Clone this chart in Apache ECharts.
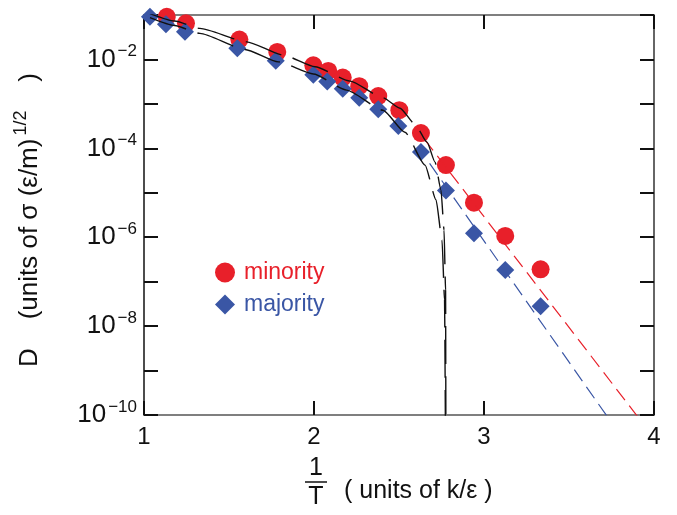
<!DOCTYPE html>
<html>
<head>
<meta charset="utf-8">
<title>D vs 1/T</title>
<script src="https://cdn.jsdelivr.net/npm/echarts@6/dist/echarts.min.js"></script>
<style>
  html, body { margin: 0; padding: 0; background: #fff; }
  #main { width: 677px; height: 515px; }
</style>
</head>
<body>
<div id="main"></div>
<script>
// minority (red circles)
var minorityX = [1.134, 1.247, 1.561, 1.784, 1.996, 2.084, 2.169, 2.266, 2.378, 2.502, 2.629, 2.776, 2.941, 3.125, 3.333];
var minorityD = [9.1e-2, 6.5e-2, 2.8e-2, 1.48e-2, 7.4e-3, 5.5e-3, 3.9e-3, 2.5e-3, 1.5e-3, 7.2e-4, 2.2e-4, 4.2e-5, 6.0e-6, 1.07e-6, 1.9e-7];
// majority (blue diamonds)
var majorityX = [1.035, 1.129, 1.241, 1.549, 1.775, 1.996, 2.078, 2.169, 2.266, 2.378, 2.496, 2.629, 2.776, 2.941, 3.125, 3.333];
var majorityD = [9.1e-2, 6.2e-2, 4.2e-2, 1.78e-2, 9.3e-3, 4.5e-3, 3.2e-3, 2.2e-3, 1.38e-3, 7.6e-4, 3.2e-4, 8.3e-5, 1.12e-5, 1.23e-6, 1.82e-7, 2.8e-8];
// black dashed fits (upper through minority, lower through majority)
var fitUpperX = [1.035, 1.18, 1.329, 1.604, 1.819, 2.006, 2.212, 2.406, 2.506, 2.594, 2.665, 2.712, 2.747, 2.765, 2.774, 2.776];
var fitUpperD = [1.07e-1, 7.3e-2, 4.99e-2, 2.49e-2, 1.25e-2, 6.84e-3, 3.26e-3, 1.37e-3, 8.0e-4, 3.5e-4, 1.38e-4, 4.9e-5, 1.15e-5, 1.45e-6, 6.4e-8, 1e-11];
var fitLowerX = [1.035, 1.18, 1.329, 1.594, 1.790, 1.996, 2.192, 2.406, 2.535, 2.653, 2.718, 2.753, 2.768, 2.774];
var fitLowerD = [8.7e-2, 5.8e-2, 3.85e-2, 1.68e-2, 8.8e-3, 4.7e-3, 2.04e-3, 7.2e-4, 2.3e-4, 4.2e-5, 6.9e-6, 8.7e-7, 3.9e-8, 1e-11];
// straight Arrhenius lines
var minorityLineX = [2.65, 3.95];
var minorityLineD = [1.6e-4, 5.4e-11];
var majorityLineX = [2.68, 3.80];
var majorityLineD = [4.6e-5, 3.6e-11];
var xTicks = [1, 2, 3, 4];

var RED = '#e8202a', BLUE = '#3a56a5';
var FONT = '"Liberation Sans", Arial, sans-serif';

function pairs(xs, ys) {
  return xs.map(function (x, i) { return [x, ys[i]]; });
}

var chart = echarts.init(document.getElementById('main'));

var yLabel = function (v) {
  var e = Math.round(Math.log10(v));
  if (e % 2 !== 0) return '';
  return '{b|10}{s|\u2212' + (-e) + '}';
};

var option = {
  animation: false,
  grid: { left: 144, right: 23, top: 15, bottom: 100 },
  legend: {
    orient: 'vertical',
    left: 210,
    top: 256,
    itemWidth: 20,
    itemHeight: 20,
    itemGap: 9,
    textStyle: { fontFamily: FONT, fontSize: 23, padding: [0, 0, 0, 4] },
    data: [
      { name: 'minority', textStyle: { color: RED } },
      { name: 'majority', textStyle: { color: BLUE } }
    ]
  },
  xAxis: [{
    type: 'value', min: xTicks[0], max: xTicks[xTicks.length - 1], interval: 1,
    axisLine: { lineStyle: { color: '#555', width: 1.5 } },
    axisTick: { inside: true, length: 14, lineStyle: { color: '#111', width: 2 } },
    axisLabel: { fontFamily: FONT, fontSize: 24, color: '#111', margin: 10 },
    splitLine: { show: false }
  }, {
    type: 'value', position: 'top', min: xTicks[0], max: xTicks[xTicks.length - 1], interval: 1,
    axisLine: { lineStyle: { color: '#555', width: 1.5 } },
    axisTick: { inside: true, length: 14, lineStyle: { color: '#111', width: 2 } },
    axisLabel: { show: false },
    splitLine: { show: false }
  }],
  yAxis: [{
    type: 'log', logBase: 10, min: 1e-10, max: 1e-1, splitNumber: 9,
    axisLine: { show: true, lineStyle: { color: '#111', width: 1.5 } },
    axisTick: { show: true, inside: true, length: 14, lineStyle: { color: '#111', width: 2 } },
    axisLabel: {
      fontFamily: FONT, color: '#111', margin: 7, formatter: yLabel,
      rich: {
        b: { fontFamily: FONT, fontSize: 26, color: '#111' },
        s: { fontFamily: FONT, fontSize: 17, color: '#111', padding: [0, 0, 16, 2] }
      }
    },
    splitLine: { show: false }
  }, {
    type: 'log', logBase: 10, min: 1e-10, max: 1e-1, splitNumber: 9, position: 'right',
    axisLine: { show: true, lineStyle: { color: '#333', width: 1.5 } },
    axisTick: { show: true, inside: true, length: 14, lineStyle: { color: '#111', width: 2 } },
    axisLabel: { show: false },
    splitLine: { show: false }
  }],
  graphic: [
    {
      type: 'text', x: 30, y: 220, rotation: Math.PI / 2,
      style: {
        text: '{a|D    (units of \u03c3 (\u03b5/m)}{s|1/2}{a|    )}',
        align: 'center', verticalAlign: 'middle',
        rich: {
          a: { fontFamily: FONT, fontSize: 26, fill: '#111' },
          s: { fontFamily: FONT, fontSize: 18, fill: '#111', padding: [0, 0, 18, 3] }
        }
      }
    },
    { type: 'text', x: 316, y: 468, style: { text: '1', font: '25px ' + FONT, fill: '#111', align: 'center', verticalAlign: 'middle' } },
    { type: 'line', shape: { x1: 305, y1: 482, x2: 327, y2: 482 }, style: { stroke: '#111', lineWidth: 1.5 } },
    { type: 'text', x: 316, y: 497, style: { text: 'T', font: '25px ' + FONT, fill: '#111', align: 'center', verticalAlign: 'middle' } },
    { type: 'text', x: 344, y: 491, style: { text: '( units of k/\u03b5 )', font: '25px ' + FONT, fill: '#111', align: 'left', verticalAlign: 'middle' } }
  ],
  series: [
    {
      name: 'minority', type: 'scatter', symbol: 'circle', symbolSize: 18, z: 2,
      itemStyle: { color: RED, opacity: 1 },
      data: pairs(minorityX, minorityD)
    },
    {
      name: 'majority', type: 'scatter', symbol: 'diamond', symbolSize: 18, z: 2,
      itemStyle: { color: BLUE, opacity: 1 },
      data: pairs(majorityX, majorityD)
    },
    {
      name: 'minority fit', type: 'line', showSymbol: false, z: 3, silent: true,
      lineStyle: { color: RED, width: 1.2, type: [14, 7] },
      data: pairs(minorityLineX, minorityLineD)
    },
    {
      name: 'majority fit', type: 'line', showSymbol: false, z: 3, silent: true,
      lineStyle: { color: BLUE, width: 1.2, type: [14, 7] },
      data: pairs(majorityLineX, majorityLineD)
    },
    {
      name: 'upper', type: 'line', showSymbol: false, z: 4, silent: true,
      smooth: 0.2, smoothMonotone: 'x',
      lineStyle: { color: '#111', width: 1.4, type: [38, 12] },
      data: pairs(fitUpperX, fitUpperD)
    },
    {
      name: 'lower', type: 'line', showSymbol: false, z: 4, silent: true,
      smooth: 0.2, smoothMonotone: 'x',
      lineStyle: { color: '#111', width: 1.4, type: [38, 12] },
      data: pairs(fitLowerX, fitLowerD)
    }
  ]
};

chart.setOption(option);
</script>
</body>
</html>
